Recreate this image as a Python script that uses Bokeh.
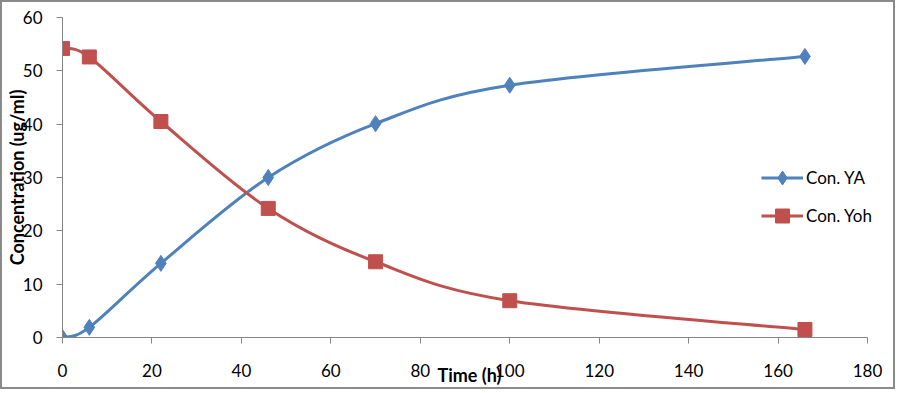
import math
from bokeh.plotting import figure
from bokeh.models import Range1d, FixedTicker, Legend, LegendItem, ColumnDataSource
from bokeh.embed import file_html
from bokeh.resources import INLINE

# ---- data ----
time_h = [0, 6, 22, 46, 70, 100, 166]
con_ya = [0, 1.9, 13.9, 30.0, 40.1, 47.3, 52.7]
con_yoh = [54.2, 52.6, 40.5, 24.2, 14.2, 6.9, 1.5]
x_ticks = [0, 20, 40, 60, 80, 100, 120, 140, 160, 180]
y_ticks = [0, 10, 20, 30, 40, 50, 60]
series_names = ["Con. YA", "Con. Yoh"]
x_title = "Time (h)"
y_title = "Concentration (ug/ml)"

BLUE = "#4F81BD"
RED = "#C0504D"
AXIS = "#868686"
FONT = "Lato"


def smooth_segments(xs, ys, t=1.0 / 6.0):
    """Cubic Bezier control points (Excel-like smoothing) between data points."""
    n = len(xs)
    d = dict(x0=[], y0=[], x1=[], y1=[], cx0=[], cy0=[], cx1=[], cy1=[])
    for i in range(n - 1):
        xp, yp = (xs[i - 1], ys[i - 1]) if i > 0 else (xs[i], ys[i])
        xn2, yn2 = (xs[i + 2], ys[i + 2]) if i + 2 < n else (xs[i + 1], ys[i + 1])
        d["x0"].append(xs[i]); d["y0"].append(ys[i])
        d["x1"].append(xs[i + 1]); d["y1"].append(ys[i + 1])
        d["cx0"].append(xs[i] + (xs[i + 1] - xp) * t)
        d["cy0"].append(ys[i] + (ys[i + 1] - yp) * t)
        d["cx1"].append(xs[i + 1] - (xn2 - xs[i]) * t)
        d["cy1"].append(ys[i + 1] - (yn2 - ys[i]) * t)
    return ColumnDataSource(d)


# canvas 895x389 + 2px CSS border on each side
p = figure(width=895, height=389, output_backend="svg", toolbar_location=None,
           x_range=Range1d(0, 182), y_range=Range1d(0, 60),
           min_border_left=60, min_border_right=21, min_border_top=15, min_border_bottom=54)
p.styles = {"border": "2px solid #8a8a8a"}
p.outline_line_color = None
p.xgrid.visible = False
p.ygrid.visible = False
p.background_fill_color = "white"
p.border_fill_color = "white"

for ax, ticks in ((p.xaxis[0], x_ticks), (p.yaxis[0], y_ticks)):
    ax.ticker = FixedTicker(ticks=ticks)
    ax.axis_line_color = AXIS
    ax.axis_line_width = 1
    ax.major_tick_line_color = AXIS
    ax.major_tick_out = 6
    ax.major_tick_in = 0
    ax.minor_tick_line_color = None
    ax.major_label_text_font = FONT
    ax.major_label_text_font_size = "17px"
    ax.major_label_text_color = "black"
    ax.axis_label_text_font = FONT
    ax.axis_label_text_font_size = "18px"
    ax.axis_label_text_font_style = "bold"
    ax.axis_label_text_color = "black"

p.xaxis[0].bounds = (0, 180)
p.xaxis[0].major_label_standoff = 20
p.xaxis[0].axis_label = x_title
p.xaxis[0].axis_label_standoff = -16

p.yaxis[0].major_label_standoff = 14
p.yaxis[0].axis_label = y_title
p.yaxis[0].axis_label_standoff = -8

ya_line = p.bezier(x0="x0", y0="y0", x1="x1", y1="y1", cx0="cx0", cy0="cy0", cx1="cx1", cy1="cy1",
                   source=smooth_segments(time_h, con_ya), line_color=BLUE, line_width=3)
yoh_line = p.bezier(x0="x0", y0="y0", x1="x1", y1="y1", cx0="cx0", cy0="cy0", cx1="cx1", cy1="cy1",
                    source=smooth_segments(time_h, con_yoh), line_color=RED, line_width=3)
ya_pts = p.scatter(time_h, con_ya, marker="diamond", size=16, fill_color=BLUE, line_color=BLUE)
yoh_pts = p.scatter(time_h, con_yoh, marker="square", size=14, fill_color=RED, line_color=RED)

legend = Legend(items=[LegendItem(label=series_names[0], renderers=[ya_line, ya_pts]),
                       LegendItem(label=series_names[1], renderers=[yoh_line, yoh_pts])],
                location=(699, 104), orientation="vertical",
                glyph_width=42, glyph_height=35, spacing=3, padding=0, margin=0,
                label_standoff=3, label_text_font=FONT, label_text_font_size="17px",
                label_text_color="black", border_line_color=None, background_fill_alpha=0)
p.add_layout(legend, "center")

open("out.html", "w").write(file_html(p, INLINE))
